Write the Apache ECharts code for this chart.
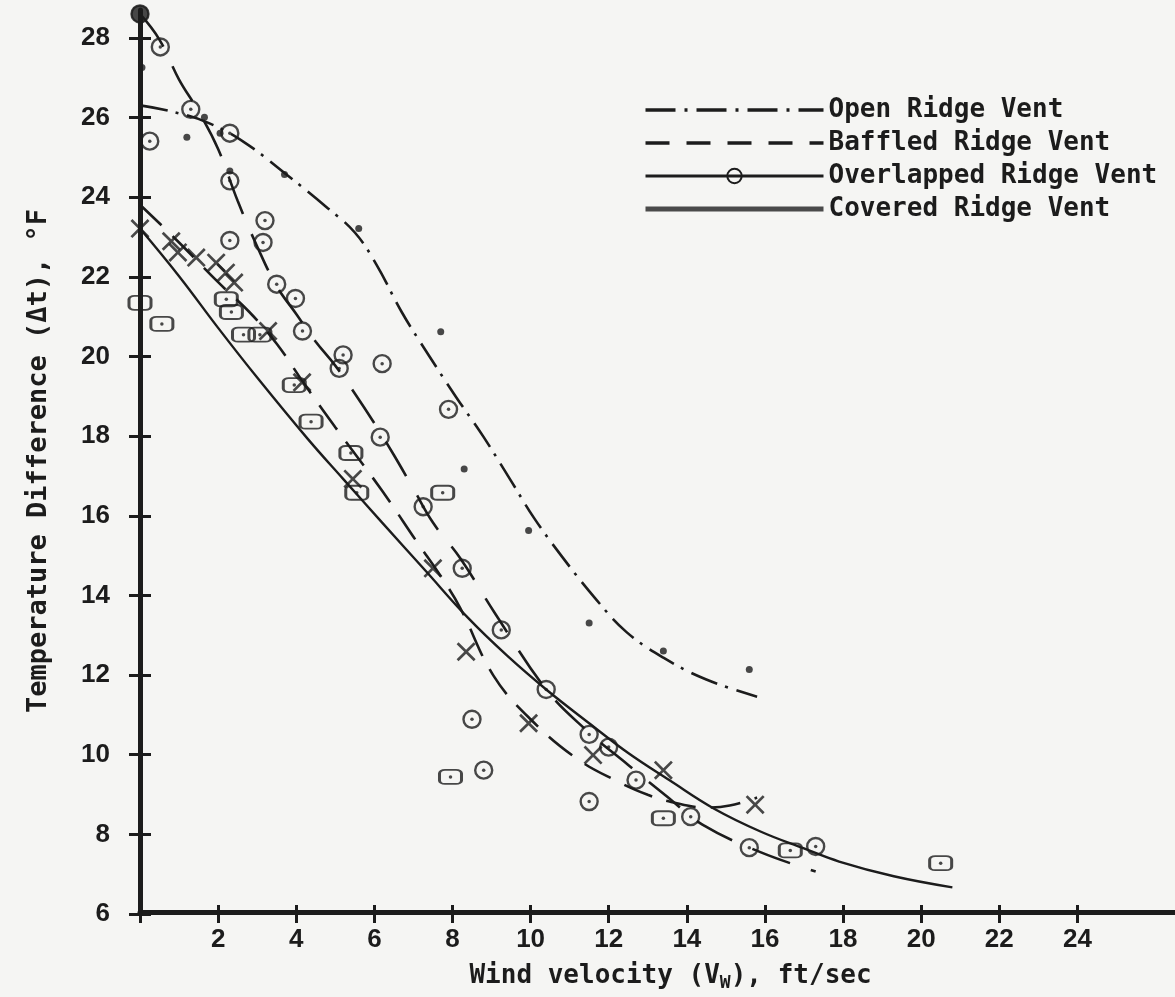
<!DOCTYPE html>
<html>
<head>
<meta charset="utf-8">
<script src="https://cdn.jsdelivr.net/npm/echarts@6/dist/echarts.min.js"></script>
<style>
html,body{margin:0;padding:0;background:#f5f5f3;}
#c{width:1175px;height:997px;}
</style>
</head>
<body>
<div id="c"></div>
<script>
// ---- data ----
const seriesNames = ['Open Ridge Vent', 'Baffled Ridge Vent', 'Overlapped Ridge Vent', 'Covered Ridge Vent'];
const xTickLabels = ['2','4','6','8','10','12','14','16','18','20','22','24'];
const yTickLabels = ['6','8','10','12','14','16','18','20','22','24','26','28'];

// measured points [wind velocity ft/sec, temperature difference F]
const openPoints = [[0,28.6],[0.05,27.25],[1.2,25.5],[1.65,26.0],[2.05,25.6],[2.3,24.65],[3.7,24.56],[5.6,23.2],[7.7,20.6],[8.3,17.15],[9.95,15.6],[11.5,13.27],[13.4,12.57],[15.6,12.1]];
const baffledPoints = [[0,23.2],[0.8,22.88],[0.97,22.6],[1.44,22.47],[1.95,22.34],[2.2,22.09],[2.41,21.84],[3.28,20.62],[4.15,19.33],[5.45,16.9],[7.5,14.65],[8.35,12.55],[9.95,10.75],[11.6,9.95],[13.4,9.57],[15.75,8.7]];
const overlappedPoints = [[0,28.6],[0.52,27.77],[0.25,25.4],[1.3,26.2],[2.3,25.6],[2.3,24.4],[2.3,22.9],[3.2,23.4],[3.15,22.85],[3.5,21.8],[3.98,21.44],[4.16,20.62],[5.2,20.02],[5.1,19.68],[6.2,19.8],[6.15,17.95],[7.9,18.65],[7.25,16.2],[8.25,14.65],[9.25,13.1],[10.4,11.6],[8.5,10.85],[8.8,9.57],[11.5,10.47],[12.0,10.15],[11.5,8.78],[12.7,9.32],[14.1,8.4],[15.6,7.62],[17.3,7.65]];
const coveredPoints = [[0,21.33],[0.56,20.8],[2.21,21.42],[2.34,21.1],[2.65,20.53],[3.07,20.53],[3.95,19.26],[4.38,18.34],[5.4,17.55],[5.55,16.55],[7.75,16.55],[7.95,9.4],[13.4,8.36],[16.65,7.55],[20.5,7.23]];

// fitted curves as drawn on the reference
const openCurve = [[0,26.3],[0.8,26.15],[1.75,25.86],[2.7,25.35],[3.7,24.6],[4.8,23.72],[5.5,23.1],[6.05,22.3],[6.7,21.1],[7.4,20.0],[8.1,18.95],[8.8,17.95],[9.5,16.85],[10.1,15.9],[10.8,14.95],[11.65,13.9],[12.45,13.05],[13.4,12.4],[14.5,11.85],[15.8,11.42]];
const baffledCurve = [[0,23.8],[1,22.85],[2,21.85],[2.8,21.1],[3.5,20.3],[4.2,19.3],[5.0,18.2],[6.2,16.6],[7.1,15.3],[7.7,14.45],[8.2,13.65],[9.05,11.95],[10,10.85],[11.2,9.85],[12.2,9.3],[13,8.95],[13.6,8.77],[14.5,8.63],[15.1,8.68],[15.8,8.88]];
const overlappedCurve = [[0,28.6],[0.5,27.95],[1.0,26.95],[1.5,26.15],[2.0,25.2],[2.5,23.9],[3.0,22.75],[3.5,21.75],[4.0,21.05],[4.5,20.35],[5.0,19.75],[5.5,19.05],[6.0,18.3],[6.5,17.5],[7.0,16.65],[7.5,15.8],[8.2,14.9],[9.1,13.5],[10.4,11.6],[11.4,10.6],[12.5,9.7],[13.5,8.9],[14.4,8.2],[15.9,7.5],[17.3,7.02]];
const coveredCurve = [[0,23.2],[1,22.0],[2,20.7],[3,19.45],[4.3,17.9],[5.2,16.9],[6.2,15.8],[7.3,14.6],[8.4,13.4],[9.4,12.45],[10.4,11.6],[11.5,10.75],[12.5,10.0],[13.55,9.32],[14.7,8.6],[15.9,8.02],[17.0,7.6],[17.9,7.27],[19.3,6.9],[20.8,6.62]];

// ---- styling ----
const INK = '#1c1c1c';
const MONO = "'DejaVu Sans Mono','Liberation Mono',monospace";
const SANS = "'Liberation Sans',Arial,sans-serif";
const X_PATH = 'path://M2,0L10,8L18,0L20,2L12,10L20,18L18,20L10,12L2,20L0,18L8,10L0,2Z';
const tickStyle = { color: INK, width: 3 };
const NO_SYMBOL = { color: 'rgba(0,0,0,0)', borderColor: 'rgba(0,0,0,0)', borderWidth: 0 };

const chart = echarts.init(document.getElementById('c'), null, { renderer: 'canvas' });

const option = {
  backgroundColor: '#f5f5f3',
  animation: false,
  grid: [
    { left: 140, right: 0, top: 10, bottom: 83 },
    { left: 140, right: 97.56, top: 37.88, bottom: 83 }
  ],
  xAxis: [
    {
      gridIndex: 0, type: 'value', min: 0, max: 26.5,
      axisLine: { onZero: false, lineStyle: { color: INK, width: 5 } },
      axisTick: { show: false }, axisLabel: { show: false }, splitLine: { show: false },
      name: 'Wind velocity (V{sub|W}), ft/sec',
      nameLocation: 'middle', nameGap: 48,
      nameTextStyle: {
        fontFamily: MONO, fontSize: 26, fontWeight: 'bold', color: INK, padding: [0, 0, 0, 26],
        rich: { sub: { fontFamily: MONO, fontSize: 18, fontWeight: 'bold', color: INK, padding: [14, 0, 0, 0] } }
      }
    },
    {
      gridIndex: 1, type: 'value', min: 0, max: 24, interval: 2, position: 'bottom', offset: 0,
      axisLine: { show: false, onZero: false },
      axisTick: { show: true, inside: false, length: 9, lineStyle: tickStyle },
      axisLabel: {
        margin: 13, fontFamily: SANS, fontWeight: 'bold', fontSize: 26, color: INK,
        formatter: v => xTickLabels.indexOf(String(v)) >= 0 ? String(v) : ''
      },
      splitLine: { show: false }
    },
    {
      gridIndex: 1, type: 'value', min: 0, max: 24, interval: 2, position: 'bottom', offset: 0,
      axisLine: { show: false, onZero: false },
      axisTick: { show: true, inside: true, length: 9, lineStyle: tickStyle },
      axisLabel: { show: false }, splitLine: { show: false }
    }
  ],
  yAxis: [
    {
      gridIndex: 0, type: 'value', min: 6, max: 28.7,
      axisLine: { onZero: false, lineStyle: { color: INK, width: 5 } },
      axisTick: { show: false }, axisLabel: { show: false }, splitLine: { show: false },
      name: 'Temperature Difference (\u0394t), \u00b0F',
      nameLocation: 'middle', nameGap: 88,
      nameTextStyle: { fontFamily: MONO, fontSize: 27, fontWeight: 'bold', color: INK }
    },
    {
      gridIndex: 1, type: 'value', min: 6, max: 28, interval: 2, position: 'left', offset: 0,
      axisLine: { show: false, onZero: false },
      axisTick: { show: true, inside: false, length: 11, lineStyle: tickStyle },
      axisLabel: {
        margin: 30, fontFamily: SANS, fontWeight: 'bold', fontSize: 26, color: INK,
        formatter: v => yTickLabels.indexOf(String(v)) >= 0 ? String(v) : ''
      },
      splitLine: { show: false }
    },
    {
      gridIndex: 1, type: 'value', min: 6, max: 28, interval: 2, position: 'left', offset: 0,
      axisLine: { show: false, onZero: false },
      axisTick: { show: true, inside: true, length: 11, lineStyle: tickStyle },
      axisLabel: { show: false }, splitLine: { show: false }
    }
  ],
  legend: {
    orient: 'vertical', left: 638, top: 90,
    itemWidth: 178, itemHeight: 18, itemGap: 3,
    selectedMode: false,
    textStyle: { fontFamily: MONO, fontSize: 26, fontWeight: 'bold', color: INK, lineHeight: 30 },
    data: [
      { name: seriesNames[0], itemStyle: NO_SYMBOL, lineStyle: { width: 3.5, type: [30, 9, 3, 9] } },
      { name: seriesNames[1], itemStyle: NO_SYMBOL, lineStyle: { width: 3.5, type: [24, 17] } },
      { name: seriesNames[2], lineStyle: { width: 3, type: 'solid' } },
      { name: seriesNames[3], itemStyle: NO_SYMBOL, lineStyle: { width: 5, color: '#4a4a4a' } }
    ]
  },
  series: [
    { type: 'line', name: seriesNames[0], data: openCurve, smooth: 0.4, symbol: 'none', silent: true, z: 3,
      itemStyle: NO_SYMBOL,
      lineStyle: { color: INK, width: 2.6, type: [28, 8, 3, 9] } },
    { type: 'line', name: seriesNames[1], data: baffledCurve, smooth: 0.4, symbol: 'none', silent: true, z: 3,
      itemStyle: NO_SYMBOL,
      lineStyle: { color: INK, width: 2.6, type: [30, 15] } },
    { type: 'line', name: seriesNames[2], data: overlappedCurve, smooth: 0.4, symbol: 'circle', showSymbol: false, symbolSize: 15, silent: true, z: 3,
      itemStyle: { color: 'rgba(0,0,0,0)', borderColor: INK, borderWidth: 2.4 },
      lineStyle: { color: INK, width: 2.6, type: [40, 22] } },
    { type: 'line', name: seriesNames[3], data: coveredCurve, smooth: 0.4, symbol: 'none', silent: true, z: 3,
      itemStyle: NO_SYMBOL,
      lineStyle: { color: INK, width: 2.4, type: 'solid' } },

    { type: 'scatter', name: 'open-pts', data: openPoints, symbol: 'circle', silent: true, z: 5,
      symbolSize: v => (v[1] > 28.4 ? 18 : 7), itemStyle: { color: INK } },
    { type: 'scatter', name: 'baffled-pts', data: baffledPoints, symbol: X_PATH, symbolSize: 19, silent: true, z: 5,
      itemStyle: { color: INK } },
    { type: 'scatter', name: 'overlapped-pts', data: overlappedPoints, symbol: 'circle', symbolSize: 17, silent: true, z: 5,
      itemStyle: { color: 'rgba(0,0,0,0)', borderColor: INK, borderWidth: 2.4 } },
    { type: 'scatter', name: 'overlapped-centers', data: overlappedPoints, symbol: 'circle', symbolSize: 3.5, silent: true, z: 5,
      itemStyle: { color: INK } },
    { type: 'scatter', name: 'covered-pts', data: coveredPoints, symbol: 'roundRect', symbolSize: [22, 14], silent: true, z: 5,
      itemStyle: { color: 'rgba(0,0,0,0)', borderColor: INK, borderWidth: 2.4 } },
    { type: 'scatter', name: 'covered-centers', data: coveredPoints, symbol: 'circle', symbolSize: 3.5, silent: true, z: 5,
      itemStyle: { color: INK } }
  ]
};
chart.setOption(option);
</script>
</body>
</html>
